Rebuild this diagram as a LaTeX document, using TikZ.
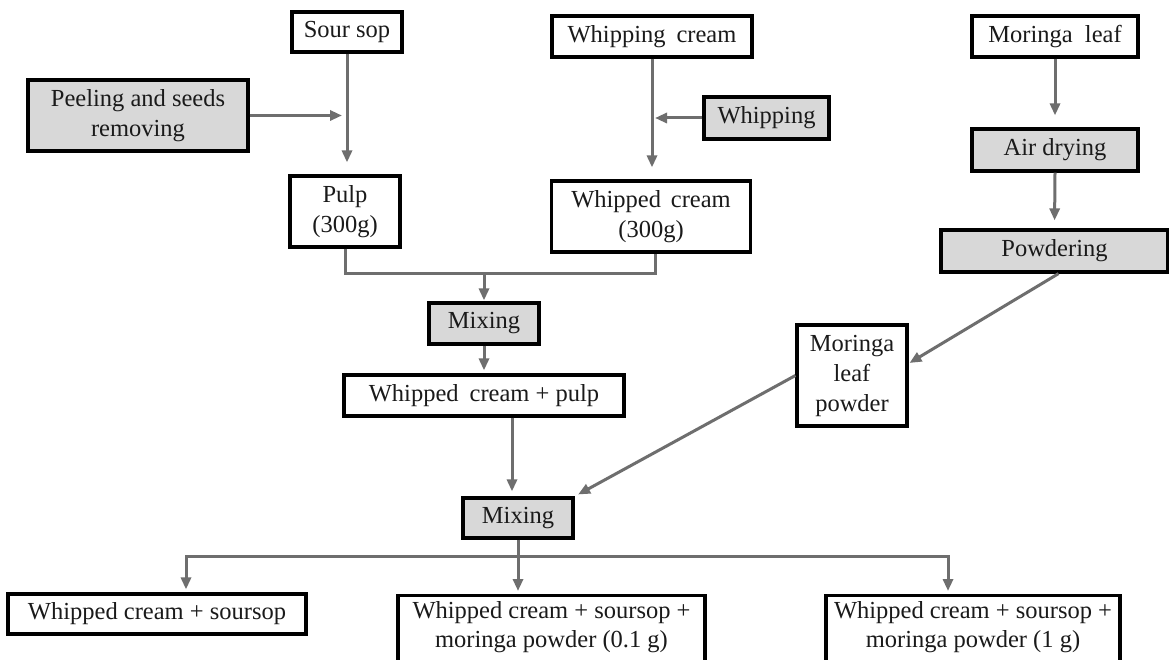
\documentclass[tikz,border=0pt]{standalone}
\usepackage{fontspec}
\setmainfont{Liberation Serif}
\usetikzlibrary{arrows.meta}
\definecolor{linegray}{HTML}{6E6E6E}
\definecolor{boxgray}{HTML}{D8D8D8}
\definecolor{txt}{HTML}{1A1A1A}
\tikzset{
  box/.style={draw=black, line width=3.2pt, inner sep=0pt, align=center, text=txt,
              font=\fontsize{24.5}{30}\selectfont},
  graybox/.style={box, fill=boxgray},
  botbox/.style={box, font=\fontsize{24.5}{29}\selectfont},
  conn/.style={draw=linegray, line width=3pt},
  arr/.style={conn, -{Triangle[length=12pt,width=10pt]}},
}
\begin{document}
\begin{tikzpicture}[x=1pt,y=-1pt]
\useasboundingbox (0,0) rectangle (1169,660);
\clip (0,0) rectangle (1169,660);
\fill[white] (0,0) rectangle (1169,660);

% left column
\node[box, minimum width=110pt, minimum height=40pt] (sour) at (347,32) {Sour sop};
\node[graybox, minimum width=220pt, minimum height=71pt] (peel) at (138,115.5) {Peeling and seeds\\removing};
\node[box, minimum width=110pt, minimum height=71pt] (pulp) at (345,211.5) {Pulp\\(300g)};

% middle column
\node[box, minimum width=200pt, minimum height=41pt] (wcream) at (652,36.5) {Whipping\hspace{0.45em}cream};
\node[graybox, minimum width=125pt, minimum height=42pt] (whip) at (766.5,118) {Whipping};
\node[box, minimum width=199pt, minimum height=71pt] (wdcream) at (651,216.5) {Whipped\hspace{0.4em}cream\\(300g)};

% right column
\node[box, minimum width=166pt, minimum height=41pt] (mleaf) at (1055,36.5) {Moringa\hspace{0.5em}leaf};
\node[graybox, minimum width=166pt, minimum height=42pt] (air) at (1055,150) {Air drying};
\node[graybox, minimum width=227pt, minimum height=42pt] (pow) at (1054.5,251) {Powdering};
\node[box, minimum width=110pt, minimum height=101pt] (mlp) at (852,375.5) {Moringa\\leaf\\powder};

% mixing
\node[graybox, minimum width=110pt, minimum height=41pt] (mix1) at (484,323.5) {Mixing};
\node[box, minimum width=280pt, minimum height=41pt] (wcp) at (484,395.5) {Whipped\hspace{0.45em}cream + pulp};
\node[graybox, minimum width=110pt, minimum height=40pt] (mix2) at (518,518) {Mixing};

% results
\node[botbox, minimum width=298pt, minimum height=40pt] (r1) at (157,614) {Whipped cream + soursop};
\node[botbox, anchor=north, minimum width=307pt, inner ysep=6pt] (r2) at (551.5,594)
  {Whipped cream + soursop +\\moringa powder (0.1 g)\rule[-22pt]{0pt}{22pt}};
\node[botbox, anchor=north, minimum width=294pt, inner ysep=6pt] (r3) at (973,594)
  {Whipped cream + soursop +\\moringa powder (1 g)\rule[-22pt]{0pt}{22pt}};

\coordinate (j1) at (484,273);
\coordinate (j2) at (518,556);

% connectors
\draw[arr, shorten >=12pt] (sour.south) -- (pulp.north -| sour.south);
\draw[arr, shorten >=5pt] (peel.east) -- (peel.east -| sour.south);
\draw[arr, shorten >=12pt] (wcream.south) -- (wdcream.north -| wcream.south);
\draw[arr, shorten >=3pt] (whip.west) -- (whip.west -| wcream.south);
\draw[arr, shorten >=12pt] (mleaf.south) -- (air.north);
\draw[arr, shorten >=8pt] (air.south) -- (pow.north);

\draw[conn] (pulp.south) |- (j1) -| ([xshift=4pt]wdcream.south);
\draw[arr, shorten >=1pt] (j1) -- (mix1.north);
\draw[arr, shorten >=3pt] (mix1.south) -- (wcp.north);

\draw[arr, shorten >=1pt] ([xshift=4pt]pow.south) -- ([yshift=12pt]mlp.east);
\draw[arr, shorten >=4pt] (mlp.west) -- (mix2.north east);
\draw[arr, shorten >=5pt] ([xshift=-6pt]mix2.north |- wcp.south) -- ([xshift=-6pt]mix2.north);

\draw[conn] (mix2.south) -- (j2);
\draw[arr, shorten >=3pt] (j2) -| ([xshift=29pt]r1.north);
\draw[arr, shorten >=3pt] (j2) -- (r2.north -| j2);
\draw[arr, shorten >=3pt] (j2) -| ([xshift=-25pt]r3.north);
\end{tikzpicture}
\end{document}
